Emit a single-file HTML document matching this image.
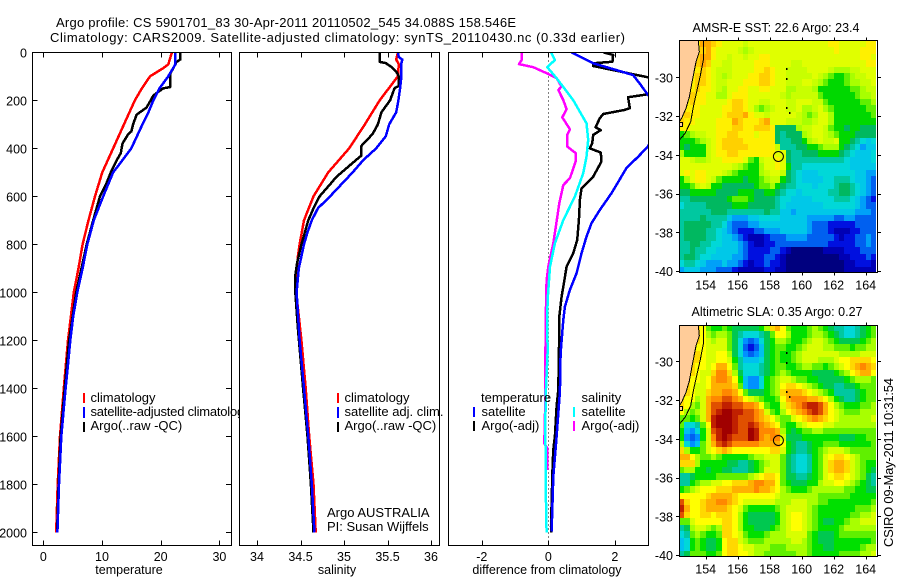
<!DOCTYPE html>
<html lang="en">
<head>
<meta charset="utf-8">
<title>Argo profile CS 5901701_83</title>
<style>
html,body{margin:0;padding:0;background:#fff;}
#figure{display:block;width:900px;height:580px;font-family:"Liberation Sans",sans-serif;}
#figure text{font-family:"Liberation Sans",sans-serif;font-size:12.5px;fill:#000;}
#figure .frame{fill:none;stroke:#000;stroke-width:1;shape-rendering:crispEdges;}
</style>
</head>
<body>
<svg id="figure" xmlns="http://www.w3.org/2000/svg" width="900" height="580" viewBox="0 0 900 580">
  <rect x="0" y="0" width="900" height="580" fill="#fff"/>
  <text x="56" y="27" textLength="460" lengthAdjust="spacing" style="font-size:13px">Argo profile: CS 5901701_83 30-Apr-2011 20110502_545 34.088S 158.546E</text>
  <text x="50" y="42" textLength="575" lengthAdjust="spacing" style="font-size:13px">Climatology: CARS2009. Satellite-adjusted climatology: synTS_20110430.nc (0.33d earlier)</text>

  <g id="panel-temp"></g>
  <g id="legend-temp">
    <rect x="83" y="393" width="2" height="10" fill="#f00"/>
    <rect x="83" y="407" width="2" height="11" fill="#00f"/>
    <rect x="83" y="422" width="2" height="10" fill="#000"/>
    <text x="90.5" y="402" style="font-size:13px">climatology</text>
    <text x="90.5" y="416" style="font-size:13px" textLength="160" lengthAdjust="spacing">satellite-adjusted climatology</text>
    <text x="90.5" y="430" style="font-size:13px">Argo(..raw -QC)</text>
  </g>

  <g id="panel-sal"></g>
  <g id="legend-sal">
    <rect x="337" y="393" width="2" height="10" fill="#f00"/>
    <rect x="337" y="407" width="2" height="11" fill="#00f"/>
    <rect x="337" y="422" width="2" height="10" fill="#000"/>
    <text x="344.5" y="402" style="font-size:13px">climatology</text>
    <text x="344.5" y="416" style="font-size:13px">satellite adj. clim.</text>
    <text x="344.5" y="430" style="font-size:13px">Argo(..raw -QC)</text>
    <text x="327" y="517" style="font-size:13px">Argo AUSTRALIA</text>
    <text x="327" y="531" style="font-size:13px">PI: Susan Wijffels</text>
  </g>

  <g id="panel-diff"></g>
  <g id="legend-diff">
    <text x="481" y="402" style="font-size:13px">temperature</text>
    <rect x="473" y="407" width="2" height="10" fill="#00f"/>
    <rect x="473" y="421" width="2" height="10" fill="#000"/>
    <text x="481.5" y="416" style="font-size:13px">satellite</text>
    <text x="481.5" y="430" style="font-size:13px">Argo(-adj)</text>
    <text x="581.5" y="402" style="font-size:13px">salinity</text>
    <rect x="573" y="407" width="2" height="10" fill="#0ff"/>
    <rect x="573" y="421" width="2" height="10" fill="#f0f"/>
    <text x="581.5" y="416" style="font-size:13px">satellite</text>
    <text x="581.5" y="430" style="font-size:13px">Argo(-adj)</text>
  </g>

  <g id="map-sst"></g>
  <g id="map-sla"></g>
  <text x="692.5" y="32" textLength="167" lengthAdjust="spacing">AMSR-E SST: 22.6 Argo: 23.4</text>
  <text x="691.5" y="316" textLength="171" lengthAdjust="spacing">Altimetric SLA: 0.35 Argo: 0.27</text>
  <text transform="translate(893,547) rotate(-90)" textLength="169" lengthAdjust="spacing" style="font-size:13px">CSIRO 09-May-2011 10:31:54</text>
</svg>

<script>
// ---------- profile data ----------
const depthTicks = [0,200,400,600,800,1000,1200,1400,1600,1800,2000];
const tempTicks = [0,10,20,30];
const salTicks = [34,34.5,35,35.5,36];
const salTickLabels = ['34','34.5','35','35.5','36'];
const diffTicks = [-2,0,2];

const tempClimDepth = [0,50,65,100,150,200,300,400,500,600,700,800,900,1000,1100,1200,1400,1600,1800,2000];
const tempClimValue = [21.9,21.3,20.5,18.2,16.8,15.6,13.75,11.9,10.05,8.8,7.7,6.7,6.0,5.2,4.7,4.2,3.5,2.85,2.45,2.2];
const tempSatDepth = [0,50,100,150,200,250,300,400,462,500,600,700,800,900,1000,1100,1200,1300,1400,1600,1800,2000];
const tempSatValue = [22.5,22.5,21.3,19.8,18.75,17.9,16.9,15,13.1,11.9,10.2,8.6,7.5,6.7,5.8,5.1,4.6,4.2,3.8,3.07,2.67,2.4];
const tempArgoDepth = [0,30,40,50,90,145,150,170,180,230,260,300,330,340,380,420,450,500,550,600,700,800,900,1000,1200,1400,1600,1800,2000];
const tempArgoValue = [23.35,23.35,22.7,22.5,21.6,21.6,20.45,19.3,18.75,17.6,15.9,15.3,15,14.5,13.5,13.2,12.5,11.5,10.7,9.66,8.5,7.4,6.5,5.6,4.4,3.65,2.95,2.6,2.35];

const salClimDepth = [0,30,50,100,200,300,400,500,600,700,800,850,900,1000,1200,1400,1600,1800,2000];
const salClimValue = [35.62,35.6,35.63,35.62,35.41,35.24,35.06,34.82,34.65,34.54,34.49,34.47,34.46,34.45,34.51,34.56,34.6,34.65,34.675];
const salSatDepth = [0,20,30,45,100,150,200,250,300,350,400,450,500,550,600,650,700,750,800,900,1000,1200,1400,1600,1800,2000];
const salSatValue = [35.62,35.63,35.67,35.66,35.66,35.645,35.625,35.6,35.52,35.48,35.37,35.22,35.1,34.97,34.84,34.7,34.63,34.58,34.54,34.48,34.455,34.49,34.54,34.59,34.63,34.66];
const salArgoDepth = [0,40,45,60,80,100,140,150,200,250,300,340,390,430,470,520,550,600,650,700,800,880,930,1000,1150,1400,1600,1800,2000];
const salArgoValue = [35.41,35.41,35.48,35.54,35.6,35.63,35.63,35.58,35.53,35.43,35.39,35.33,35.2,35.2,35.07,34.91,34.84,34.72,34.65,34.59,34.51,34.46,34.44,34.44,34.47,34.53,34.58,34.62,34.65];

const diffTempSatDepth = [0,18,46,74,95,130,178,200,300,393,435,483,587,657,712,768,838,920,990,1060,1115,1254,1414,1601,1768,1997];
const diffTempSatValue = [0.7,0.95,1.35,2.05,2.55,2.75,3.0,3.2,3.3,3.0,2.7,2.35,1.9,1.55,1.3,1.15,1.0,0.85,0.65,0.5,0.45,0.37,0.35,0.25,0.15,0.1];
const diffTempArgoDepth = [0,11,39,46,57,104,140,175,187,233,240,257,275,312,324,344,379,400,418,455,518,567,615,699,782,838,893,962,1018,1101,1156,1405,1475,1600,1656,1725,1975,2000];
const diffTempArgoValue = [1.65,1.95,1.93,1.35,1.35,3.0,3.4,3.0,2.4,2.45,2.3,1.65,1.55,1.42,1.58,1.35,1.32,1.25,1.58,1.6,1.35,1.0,0.95,0.92,0.87,0.75,0.55,0.47,0.4,0.33,0.33,0.3,0.25,0.2,0.15,0.13,0.08,0.08];
const diffSalArgoDepth = [0,32,49,62,87,108,143,157,199,237,271,321,344,393,421,455,525,553,629,705,796,893,949,1060,1200,1366,1505,1630,1650,1740];
const diffSalArgoValue = [-0.8,-0.8,-0.88,-0.45,-0.05,0.25,0.4,0.3,0.45,0.55,0.42,0.65,0.57,0.57,0.83,0.82,0.65,0.45,0.33,0.25,0.15,0,-0.05,-0.07,-0.08,-0.1,-0.1,-0.12,-0.03,-0.03];
const diffSalSatDepth = [0,32,62,108,199,296,365,435,504,601,699,796,893,1032,1115,1250,1400,1540,1875,2000];
const diffSalSatValue = [0.08,0.2,-0.03,0.25,0.75,1.15,1.2,1.15,1.05,0.8,0.45,0.2,0.05,-0.02,-0.03,-0.02,-0.07,-0.09,-0.07,-0.05];

// ---------- map data: colour levels (index into the map's palette) ----------
const sstPalette = ['#00007f','#0000b4','#0010e0','#0060f0','#00a0f8','#00c8e8','#00d8d8','#00c8a0','#00b860','#00d800','#60f000','#a8ff00','#c8ff00','#e0ff00','#fff000','#ffd000','#ffa800','#f07000','#d03000','#a80000'];
const slaPalette = ['#00007f','#0000b4','#0010e0','#0060f0','#0090ff','#00c0f0','#00d8d8','#00c8a0','#00c850','#00e000','#60f000','#a8ff00','#d8ff00','#ffff00','#ffd800','#ffb000','#ff8800','#e05000','#c02000','#a00000'];
const lonTicks = [154,156,158,160,162,164];
const latTicks = [-30,-32,-34,-36,-38,-40];
const coastLon = [153.54,153.60,153.40,153.15,152.98,152.77,152.50,152.35];
const coastLat = [-28.11,-28.68,-29.19,-30.22,-31.0,-31.6,-32.11,-32.29];
const shelfLon = [153.85,153.85,153.65,153.44,153.23,153.06,152.71,152.40];
const shelfLat = [-28.11,-29.11,-29.97,-30.74,-31.51,-32.29,-32.89,-33.2];
const islandLon = [159.0,159.0,159.02,159.2];
const islandLat = [-29.5,-30.02,-31.55,-31.78];
const profileLon = [158.546];
const profileLat = [-34.088];

const sstLevels = [
[14,14,14,14,16,16,15,14,13,13,13,13,12,13,13,13,13,13,13,13,13,13,13,13,13,13,13,13,14,14,13,13,13,13,13,14,14],
[14,14,14,14,15,16,14,13,13,13,13,12,11,12,13,13,13,13,13,13,13,13,13,13,13,13,13,13,13,14,13,13,13,13,14,14,14],
[14,14,14,15,16,16,14,13,13,12,13,13,12,13,13,14,14,13,13,13,13,13,13,13,13,13,13,13,13,13,13,13,13,13,14,14,13],
[14,14,14,15,16,15,13,13,12,12,13,13,13,13,14,14,14,13,13,13,13,12,12,13,13,13,13,13,13,13,13,13,13,13,13,14,14],
[14,14,14,14,15,14,13,12,12,12,13,13,13,13,14,14,15,14,13,13,12,12,12,12,13,13,13,13,12,11,11,11,12,12,13,13,13],
[14,14,14,15,15,14,13,12,11,12,13,13,13,14,14,15,15,14,13,13,12,12,12,12,12,13,12,11,10,9,9,10,11,12,12,13,13],
[14,14,14,15,15,14,13,12,12,13,13,13,14,14,14,15,15,14,13,13,12,12,12,13,13,12,11,10,9,9,9,10,11,11,12,12,13],
[14,14,14,15,14,14,13,12,11,13,13,14,14,13,13,14,14,13,13,13,11,11,12,12,12,11,9,9,9,9,9,9,10,10,11,12,12],
[14,14,15,14,14,13,13,11,11,13,14,14,14,13,13,13,13,13,13,12,11,12,12,12,12,12,10,9,9,9,9,9,9,10,11,11,12],
[14,14,15,14,14,13,13,13,13,14,15,15,14,13,13,12,12,13,13,13,12,12,13,13,13,12,12,10,9,9,9,9,9,9,10,10,11],
[14,14,14,14,13,13,13,13,14,14,15,15,14,13,11,10,11,12,13,13,12,12,13,11,11,12,13,11,10,9,9,9,9,9,9,10,10],
[14,15,14,14,13,13,13,13,14,15,15,15,16,14,13,13,12,13,13,13,13,13,12,11,10,11,13,13,11,9,9,9,9,9,9,9,10],
[15,14,14,13,13,13,13,14,14,14,16,15,14,14,14,15,16,13,13,13,12,12,12,11,11,12,13,13,11,9,9,9,9,9,9,9,9],
[14,14,13,13,13,13,13,14,14,14,15,15,14,14,15,15,15,14,8,8,8,8,11,12,12,13,13,12,10,9,9,8,9,9,8,8,8],
[9,10,11,12,12,13,13,14,14,15,15,14,14,14,13,14,14,14,8,7,8,8,8,11,12,13,13,12,11,10,9,9,9,8,8,8,8],
[9,9,9,10,11,12,13,14,15,15,15,15,14,14,14,14,14,14,8,7,7,8,8,9,11,12,13,12,12,13,9,9,8,7,6,5,6],
[9,8,9,9,9,12,13,14,15,15,15,15,15,14,14,14,14,14,12,7,7,7,8,8,9,9,10,11,11,11,9,8,7,6,4,5,5],
[11,9,9,9,9,12,13,14,14,15,15,14,14,14,14,14,14,14,13,13,8,7,7,8,8,8,9,9,9,9,8,7,6,5,5,5,6],
[13,13,12,11,11,12,13,13,14,14,14,14,13,10,9,12,13,13,14,13,8,7,7,7,7,7,7,7,7,7,7,6,5,5,5,5,6],
[13,13,13,13,13,13,13,13,13,13,12,11,10,9,9,11,13,13,14,13,9,7,7,6,6,6,6,6,6,6,6,6,5,5,5,5,5],
[13,14,13,14,14,13,13,13,12,11,10,9,9,9,9,11,12,13,13,12,8,7,6,5,5,5,6,6,6,6,6,6,6,5,5,4,4],
[9,11,13,14,14,13,12,10,9,9,9,9,8,9,9,10,11,12,12,9,8,7,6,5,5,5,5,6,6,7,7,7,6,5,5,4,3],
[9,9,10,12,13,12,9,9,8,8,8,8,8,8,9,10,10,11,9,8,7,7,6,6,6,5,6,6,6,7,8,8,7,6,5,4,3],
[8,8,9,9,9,9,9,8,8,8,8,9,9,9,8,8,9,9,8,7,6,6,5,6,6,6,6,6,7,7,8,8,7,6,5,4,3],
[7,7,8,8,8,8,8,8,8,9,10,10,10,9,8,8,8,8,7,6,6,5,5,5,5,6,6,6,6,7,7,7,6,5,4,3,2],
[6,7,7,7,7,8,8,8,8,8,9,9,9,8,8,8,8,8,7,6,5,5,5,5,5,5,5,6,6,6,6,6,6,5,4,3,3],
[7,7,7,7,7,7,8,8,8,7,7,7,7,7,7,7,8,7,7,5,5,4,5,5,5,5,5,5,5,5,5,5,5,4,4,4,3],
[7,7,7,7,8,7,7,7,7,5,4,4,4,5,5,6,6,6,6,5,5,5,5,5,4,4,4,4,4,3,3,4,4,3,3,3,3],
[7,8,8,8,8,8,7,7,6,4,3,3,3,4,4,5,5,5,5,5,5,5,5,5,4,3,3,3,2,2,2,2,2,3,3,3,3],
[7,8,8,8,8,7,7,6,5,4,3,2,2,2,3,3,4,4,4,5,5,5,5,5,4,3,3,3,2,1,1,1,2,2,3,3,3],
[7,8,8,8,8,7,7,6,5,5,4,3,2,1,1,1,2,3,3,3,4,4,4,4,3,3,3,3,3,2,1,2,2,3,3,4,3],
[7,7,8,8,7,7,6,6,5,5,5,4,3,2,1,1,2,2,3,3,3,3,3,3,3,3,3,3,2,2,2,2,2,3,3,4,3],
[7,7,8,7,7,6,6,5,5,5,5,4,3,2,2,2,2,3,3,2,1,0,0,0,0,0,0,1,1,1,1,2,2,2,3,3,3],
[7,8,8,7,6,6,5,5,5,5,4,4,3,2,2,2,3,3,2,1,0,0,0,0,0,0,0,0,0,0,1,1,2,2,2,3,2],
[6,7,7,6,5,4,4,4,5,4,4,3,2,1,2,2,3,2,2,1,0,0,0,0,0,0,0,0,0,0,0,1,1,2,2,2,1],
[4,5,5,5,4,4,4,3,3,3,2,1,1,1,1,1,2,2,1,1,0,0,0,0,0,0,0,0,0,0,0,1,1,1,1,1,1]
];

const slaLevels = [
[14,14,14,14,13,10,9,9,10,9,8,8,8,8,8,9,11,14,15,13,10,9,9,9,10,11,10,9,8,7,7,6,6,7,8,9,10],
[14,14,14,14,13,11,10,11,11,10,8,7,6,6,6,7,8,10,13,13,11,9,9,9,10,11,11,10,9,8,7,6,6,7,8,9,10],
[14,14,14,14,13,12,11,12,12,10,8,6,4,3,4,6,8,9,11,11,10,9,9,10,11,12,12,11,10,9,8,8,8,8,9,10,11],
[14,14,14,13,13,12,12,12,12,10,8,6,3,2,3,5,8,9,10,10,9,9,10,11,12,12,12,11,11,10,10,10,9,10,10,11,11],
[14,14,14,14,13,12,12,13,13,11,8,6,4,3,4,5,8,9,10,9,9,10,11,12,12,12,12,12,12,12,11,11,11,11,12,12,12],
[14,14,14,14,13,12,12,13,13,12,9,7,5,5,5,6,8,9,10,9,9,10,11,12,12,12,11,11,11,12,13,13,14,14,14,14,13],
[14,14,14,13,13,12,13,15,15,13,10,7,6,6,6,7,8,9,10,10,9,9,10,11,11,10,10,9,10,11,12,13,14,15,16,15,14],
[14,14,14,13,12,12,14,16,16,14,11,8,6,6,6,7,8,9,10,11,10,9,9,9,9,8,8,8,8,9,10,11,13,14,15,15,13],
[14,14,13,13,12,13,15,16,16,15,13,9,5,4,4,6,9,10,11,12,12,11,10,10,9,9,8,8,8,8,8,9,10,11,11,11,10],
[14,14,13,12,12,13,15,15,15,15,14,10,5,4,4,6,9,10,11,13,14,14,13,12,11,10,9,8,8,7,7,8,8,9,10,10,10],
[14,14,13,12,12,14,15,15,16,16,15,13,10,8,8,8,9,10,11,14,15,15,15,14,13,12,11,10,9,7,7,7,7,8,9,10,10],
[14,13,13,11,12,15,16,16,17,17,16,15,13,12,11,10,9,9,10,13,15,16,16,16,15,15,14,13,11,9,8,7,7,8,9,10,10],
[14,13,11,10,12,15,17,17,18,18,17,17,16,16,15,13,10,9,9,12,14,15,16,17,18,18,17,15,13,11,10,9,9,9,10,10,11],
[13,11,10,11,12,15,17,18,19,19,18,18,17,17,16,15,12,10,9,11,13,14,15,16,17,18,17,15,13,12,11,10,10,10,11,11,11],
[10,10,9,10,12,15,18,19,19,19,18,17,17,17,16,15,14,13,11,10,10,12,13,14,15,16,15,14,13,12,11,11,11,11,11,11,12],
[10,6,6,7,10,13,18,19,19,19,18,17,17,18,17,16,15,14,13,10,9,9,11,12,13,13,13,12,12,11,11,11,11,11,11,11,11],
[9,5,4,6,9,12,17,18,19,19,18,17,17,19,18,16,16,16,15,11,9,8,9,10,10,11,11,10,10,10,10,10,10,10,10,10,10],
[9,4,3,4,9,12,16,18,19,18,17,17,17,19,18,16,15,16,16,12,8,8,8,9,9,9,9,9,9,9,8,8,8,9,9,10,10],
[11,6,4,5,10,12,15,17,18,17,16,16,16,16,16,15,15,15,15,13,9,8,7,7,8,9,9,10,10,10,9,9,9,9,9,9,10],
[14,11,9,9,10,12,13,14,15,14,13,13,13,13,13,13,13,14,14,12,9,8,7,7,8,9,10,11,12,12,12,11,10,10,10,10,10],
[15,15,13,11,10,10,11,10,9,9,9,9,9,10,11,11,12,12,12,10,8,7,6,6,7,9,10,12,13,14,14,13,12,11,10,10,10],
[14,14,14,11,9,9,9,9,9,8,8,7,7,8,9,10,11,12,12,10,8,7,6,6,7,9,10,12,14,15,15,14,12,11,10,9,9],
[10,11,11,9,9,8,9,9,8,8,7,7,7,8,9,10,12,12,12,10,8,7,6,6,7,9,10,12,14,15,15,14,12,11,10,9,8],
[7,7,8,9,9,9,9,10,10,10,10,10,10,11,12,13,14,14,13,10,8,8,7,7,8,9,10,12,13,14,14,13,12,11,10,8,7],
[7,7,9,10,11,11,12,12,13,13,14,14,14,15,16,16,15,15,13,10,9,8,8,8,9,9,11,12,12,13,13,12,11,10,9,8,7],
[9,10,11,12,13,13,13,14,14,14,15,15,15,15,16,15,15,14,13,11,10,9,9,9,10,11,11,11,11,11,11,10,10,9,9,8,8],
[13,13,13,13,13,14,15,15,15,15,14,13,13,13,13,13,13,13,12,11,11,11,11,11,11,11,10,10,10,10,10,10,9,9,9,9,9],
[17,14,13,13,14,15,15,16,16,15,14,13,12,12,12,12,12,12,11,11,11,12,12,12,11,11,10,10,9,9,9,9,9,9,9,9,10],
[18,15,13,13,14,15,15,15,15,14,13,12,10,9,9,9,9,9,10,11,12,12,12,12,11,10,9,9,9,9,9,9,9,10,10,10,11],
[17,14,13,13,14,14,13,14,14,14,13,11,9,8,8,8,8,8,9,11,12,13,13,12,11,10,9,9,9,9,9,9,10,10,11,11,12],
[10,10,12,13,13,13,13,13,14,14,13,11,9,8,8,8,8,8,9,11,12,13,13,12,11,10,9,8,8,9,9,10,11,11,12,12,12],
[7,8,11,12,12,11,10,11,14,14,13,11,9,9,8,8,8,9,10,11,12,13,13,12,11,10,9,9,9,9,10,11,11,11,11,11,11],
[6,7,10,11,10,9,9,10,14,14,13,12,10,9,9,9,10,11,11,11,12,12,12,12,10,9,8,8,8,9,10,10,10,10,10,10,10],
[5,6,9,10,9,8,8,9,13,14,14,12,11,10,10,10,11,11,11,11,11,12,12,11,10,9,8,8,8,9,9,9,9,9,9,9,10],
[5,6,9,10,9,8,8,9,13,14,14,13,12,12,11,11,11,10,10,10,11,11,11,11,10,9,9,8,8,9,9,9,9,9,10,11,11],
[7,8,10,10,10,9,9,10,13,14,14,13,13,12,11,11,10,10,10,10,10,10,11,11,10,9,9,9,9,9,10,10,10,10,11,11,12]
];

// ---------- helpers ----------
const SVG_NS = 'http://www.w3.org/2000/svg';
function mk(parent, tag, attrs) {
  const el = document.createElementNS(SVG_NS, tag);
  for (const k in attrs) el.setAttribute(k, attrs[k]);
  parent.appendChild(el);
  return el;
}
const plotTop = 52.5, plotBottom = 545.5;
const depthY = d => 52.3 + d * 0.24;

function hLine(parent, x1, x2, y, name) {
  const el = mk(parent, 'line', {x1: x1, x2: x2, y1: Math.round(y) + 0.5, y2: Math.round(y) + 0.5, stroke: '#000', 'stroke-width': 1, 'shape-rendering': 'crispEdges'});
  
  
  return el;
}
function vLine(parent, x, y1, y2, name) {
  const el = mk(parent, 'line', {x1: Math.round(x) + 0.5, x2: Math.round(x) + 0.5, y1: y1, y2: y2, stroke: '#000', 'stroke-width': 1, 'shape-rendering': 'crispEdges'});
  
  
  return el;
}
function label(parent, x, y, str, anchor, name) {
  const el = mk(parent, 'text', {x: x, y: y, 'text-anchor': anchor});
  el.textContent = str;
  
  
  return el;
}
function series(parent, xs, ds, xFn, color, clipId, name) {
  const pts = xs.map((v, i) => xFn(v).toFixed(1) + ',' + depthY(ds[i]).toFixed(1)).join(' ');
  const el = mk(parent, 'polyline', {points: pts, fill: 'none', stroke: color, 'stroke-width': 2.5, 'stroke-linejoin': 'round', 'shape-rendering': 'crispEdges', 'clip-path': 'url(#' + clipId + ')'});
  
  
  return el;
}
function panelFrame(parent, x0, x1, clipId) {
  const bg = mk(parent, 'rect', {x: x0 + 0.5, y: plotTop, width: x1 - x0, height: plotBottom - plotTop, fill: '#fff'});
  
  
  const clip = mk(parent, 'clipPath', {id: clipId});
  mk(clip, 'rect', {x: x0 + 0.5, y: plotTop, width: x1 - x0, height: plotBottom - plotTop});
}
function panelBorder(parent, x0, x1) {
  const b = mk(parent, 'path', {d: 'M' + (x0 + 0.5) + ' ' + plotTop + 'H' + (x1 + 0.5) + 'V' + plotBottom + 'H' + (x0 + 0.5) + 'Z', class: 'frame'});
  
  
}
function xTicks(parent, ticks, labels, xFn) {
  ticks.forEach((t, i) => {
    const x = xFn(t);
    vLine(parent, x, plotTop, plotTop + 5, 'x-tick-top');
    vLine(parent, x, plotBottom - 5, plotBottom, 'x-tick-bottom');
    label(parent, x, 561, labels[i], 'middle', 'x-tick-label');
  });
}

// ---------- temperature panel ----------
const tempX = t => 43.3 + t * 5.87;
const pT = document.getElementById('panel-temp');
panelFrame(pT, 32, 231, 'clip-temp');
series(pT, tempClimValue, tempClimDepth, tempX, '#f00', 'clip-temp', 'temperature-climatology-line');
series(pT, tempArgoValue, tempArgoDepth, tempX, '#000', 'clip-temp', 'temperature-argo-line');
series(pT, tempSatValue, tempSatDepth, tempX, '#00f', 'clip-temp', 'temperature-satellite-line');
panelBorder(pT, 32, 231);
xTicks(pT, tempTicks, tempTicks.map(String), tempX);
depthTicks.forEach(d => {
  const y = depthY(d);
  hLine(pT, 32.5, 37.5, y, 'depth-tick-left');
  hLine(pT, 226, 231.5, y, 'depth-tick-right');
  label(pT, 27, y + 5, String(d), 'end', 'depth-tick-label');
});
label(pT, 129, 574, 'temperature', 'middle', 'x-axis-title-temperature');

// ---------- salinity panel ----------
const salX = s => 257 + (s - 34) * 87;
const pS = document.getElementById('panel-sal');
panelFrame(pS, 239, 439, 'clip-sal');
series(pS, salClimValue, salClimDepth, salX, '#f00', 'clip-sal', 'salinity-climatology-line');
series(pS, salArgoValue, salArgoDepth, salX, '#000', 'clip-sal', 'salinity-argo-line');
series(pS, salSatValue, salSatDepth, salX, '#00f', 'clip-sal', 'salinity-satellite-line');
panelBorder(pS, 239, 439);
xTicks(pS, salTicks, salTickLabels, salX);
label(pS, 337, 574, 'salinity', 'middle', 'x-axis-title-salinity');

// ---------- difference panel ----------
const diffX = v => 548.3 + v * 33.25;
const pD = document.getElementById('panel-diff');
panelFrame(pD, 448, 648, 'clip-diff');
const zeroLine = mk(pD, 'line', {x1: 548.5, x2: 548.5, y1: plotTop, y2: plotBottom, stroke: '#000', 'stroke-width': 1, 'stroke-dasharray': '1 3', 'shape-rendering': 'crispEdges'});


series(pD, diffTempArgoValue, diffTempArgoDepth, diffX, '#000', 'clip-diff', 'difference-temperature-argo-line');
series(pD, diffTempSatValue, diffTempSatDepth, diffX, '#00f', 'clip-diff', 'difference-temperature-satellite-line');
series(pD, diffSalArgoValue, diffSalArgoDepth, diffX, '#f0f', 'clip-diff', 'difference-salinity-argo-line');
series(pD, diffSalSatValue, diffSalSatDepth, diffX, '#0ff', 'clip-diff', 'difference-salinity-satellite-line');
panelBorder(pD, 448, 648);
xTicks(pD, diffTicks, diffTicks.map(String), diffX);
label(pD, 547, 574, 'difference from climatology', 'middle', 'x-axis-title-difference');

// ---------- maps ----------
const lonX = lon => 705.7 + (lon - 154) * 16;
const LON0 = 152.34, LAT0 = -28.11, CELL = 1 / 3;
function drawMap(parent, levels, palette, lat30Y, top, bottom, clipId, cellName) {
  const latY = lat => lat30Y - (lat + 30) * 19.37;
  const clip = mk(parent, 'clipPath', {id: clipId});
  mk(clip, 'rect', {x: 679.5, y: top, width: 198, height: bottom - top});
  const cells = mk(parent, 'g', {'clip-path': 'url(#' + clipId + ')'});
  levels.forEach((row, i) => {
    row.forEach((lv, j) => {
      const x0 = Math.round(lonX(LON0 + j * CELL));
      const x1 = Math.round(lonX(LON0 + (j + 1) * CELL));
      const y0 = Math.round(latY(LAT0 - i * CELL));
      const y1 = Math.round(latY(LAT0 - (i + 1) * CELL));
      const c = mk(cells, 'rect', {x: x0, y: y0, width: x1 - x0, height: y1 - y0, fill: palette[lv], 'shape-rendering': 'crispEdges'});
      
      
    });
  });
  const overlay = mk(parent, 'g', {'clip-path': 'url(#' + clipId + ')'});
  let landPts = lonX(152.2).toFixed(1) + ',' + latY(-28.0).toFixed(1) + ' ' + lonX(coastLon[0]).toFixed(1) + ',' + latY(-28.0).toFixed(1) + ' ';
  landPts += coastLon.map((v, i) => lonX(v).toFixed(1) + ',' + latY(coastLat[i]).toFixed(1)).join(' ');
  landPts += ' ' + lonX(152.2).toFixed(1) + ',' + latY(-32.29).toFixed(1);
  const land = mk(overlay, 'polygon', {points: landPts, fill: '#ffcc99', stroke: 'none'});
  
  
  const coast = mk(overlay, 'polyline', {points: coastLon.map((v, i) => lonX(v).toFixed(1) + ',' + latY(coastLat[i]).toFixed(1)).join(' '), fill: 'none', stroke: '#000', 'stroke-width': 1, 'shape-rendering': 'crispEdges'});
  
  
  const shelf = mk(overlay, 'polyline', {points: shelfLon.map((v, i) => lonX(v).toFixed(1) + ',' + latY(shelfLat[i]).toFixed(1)).join(' '), fill: 'none', stroke: '#000', 'stroke-width': 1, 'shape-rendering': 'crispEdges'});
  
  
  const harbour = mk(overlay, 'rect', {x: 679.5, y: Math.round(latY(-32.3)) + 0.5, width: 3, height: 4, fill: '#ffcc99', stroke: '#000', 'stroke-width': 1, 'shape-rendering': 'crispEdges'});
  
  
  islandLon.forEach((lon, i) => {
    const isl = mk(overlay, 'rect', {x: Math.round(lonX(lon)), y: Math.round(latY(islandLat[i])), width: 1.5, height: 2, fill: '#000', 'shape-rendering': 'crispEdges'});
    
    
  });
  const marker = mk(parent, 'circle', {cx: lonX(profileLon[0]).toFixed(1), cy: latY(profileLat[0]).toFixed(1), r: 5, fill: 'none', stroke: '#000', 'stroke-width': 1});
  
  
  const border = mk(parent, 'rect', {x: 679.5, y: top, width: 198, height: bottom - top, class: 'frame'});
  
  
  lonTicks.forEach(lon => {
    const x = lonX(lon);
    vLine(parent, x, top - 3, top, 'longitude-tick-top');
    vLine(parent, x, bottom, bottom + 3, 'longitude-tick-bottom');
    label(parent, x, bottom + 17, String(lon), 'middle', 'longitude-tick-label');
  });
  latTicks.forEach(lat => {
    const y = latY(lat);
    hLine(parent, 676, 679.5, y, 'latitude-tick-left');
    hLine(parent, 877.5, 881, y, 'latitude-tick-right');
    label(parent, 673, y + 5, String(lat), 'end', 'latitude-tick-label');
  });
}
drawMap(document.getElementById('map-sst'), sstLevels, sstPalette, 77.3, 40.5, 272.5, 'clip-sst', 'sst-cell');
drawMap(document.getElementById('map-sla'), slaLevels, slaPalette, 361.3, 325.5, 556.5, 'clip-sla', 'sla-cell');
</script>
</body>
</html>
